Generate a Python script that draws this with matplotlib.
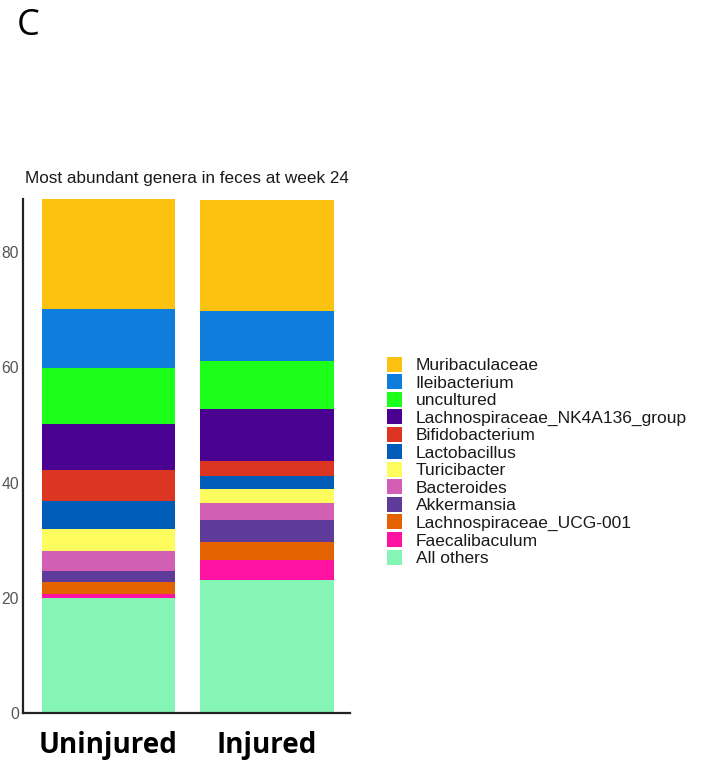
import matplotlib
matplotlib.use("Agg")
import matplotlib.pyplot as plt
from matplotlib.patches import Rectangle
import numpy as np

groups = ["Uninjured", "Injured"]
genera = ["Muribaculaceae", "Ileibacterium", "uncultured",
          "Lachnospiraceae_NK4A136_group", "Bifidobacterium", "Lactobacillus",
          "Turicibacter", "Bacteroides", "Akkermansia",
          "Lachnospiraceae_UCG-001", "Faecalibaculum", "All others"]
uninjured = [19.1, 10.3, 9.6, 8.0, 5.4, 4.8, 3.8, 3.6, 1.8, 2.2, 0.7, 19.9]
injured = [19.3, 8.8, 8.2, 9.1, 2.5, 2.3, 2.5, 2.9, 3.8, 3.1, 3.5, 23.1]
colors = ["#FDC10F", "#0F7DDB", "#1BFF1B", "#4A0090", "#DC3522", "#005CB6",
          "#FFFC5E", "#D25FB4", "#5E3A9A", "#E46200", "#FD12A2", "#85F5B5"]
yticks = [0, 20, 40, 60, 80]

W, H = 713, 765
fig = plt.figure(figsize=(W / 100, H / 100), dpi=100)
ax = fig.add_axes([23 / W, 1 - 713 / H, (350 - 23) / W, (713 - 199) / H])

values = np.array([uninjured, injured])  # shape (groups, genera)
x = np.arange(len(groups))
# stack from the bottom: "All others" first, Muribaculaceae last
bottom = np.zeros(len(groups))
for j in range(len(genera) - 1, -1, -1):
    ax.bar(x, values[:, j], bottom=bottom, width=0.844, color=colors[j],
           edgecolor="none", linewidth=0)
    bottom += values[:, j]

ax.set_xlim(-0.54, 1.526)
ax.set_ylim(0, bottom.max())
ax.set_yticks(yticks)
ax.set_yticklabels([str(t) for t in yticks], fontsize=11.3, color="#555555",
                   family="Liberation Sans")
ax.tick_params(axis="y", length=0, pad=2.8)
ax.set_xticks(x)
ax.set_xticklabels(groups, fontsize=20, fontweight="bold", family="Open Sans",
                   color="black")
ax.tick_params(axis="x", length=0, pad=13)
for s in ["top", "right"]:
    ax.spines[s].set_visible(False)
for s in ["left", "bottom"]:
    ax.spines[s].set_linewidth(1.6)
    ax.spines[s].set_color("#222222")

fig.text(25 / W, 1 - 178 / H, "Most abundant genera in feces at week 24",
         ha="left", va="center", fontsize=12.3, family="Liberation Sans",
         color="#1a1a1a")
fig.text(17 / W, 1 - 26 / H, "C", ha="left", va="center", fontsize=26,
         family="Open Sans", color="black")

# legend: colour keys with genus names, one row per genus
row0, step, key = 364, 17.55, 15
for i, (name, c) in enumerate(zip(genera, colors)):
    yc = row0 + i * step
    fig.patches.append(Rectangle((387 / W, 1 - (yc + key / 2) / H), key / W,
                                 key / H, transform=fig.transFigure,
                                 facecolor=c, edgecolor="none"))
    fig.text(415.5 / W, 1 - yc / H, name, ha="left", va="center_baseline",
             fontsize=12.5, family="Liberation Sans", color="#1a1a1a")

fig.savefig("out.png", dpi=100)
